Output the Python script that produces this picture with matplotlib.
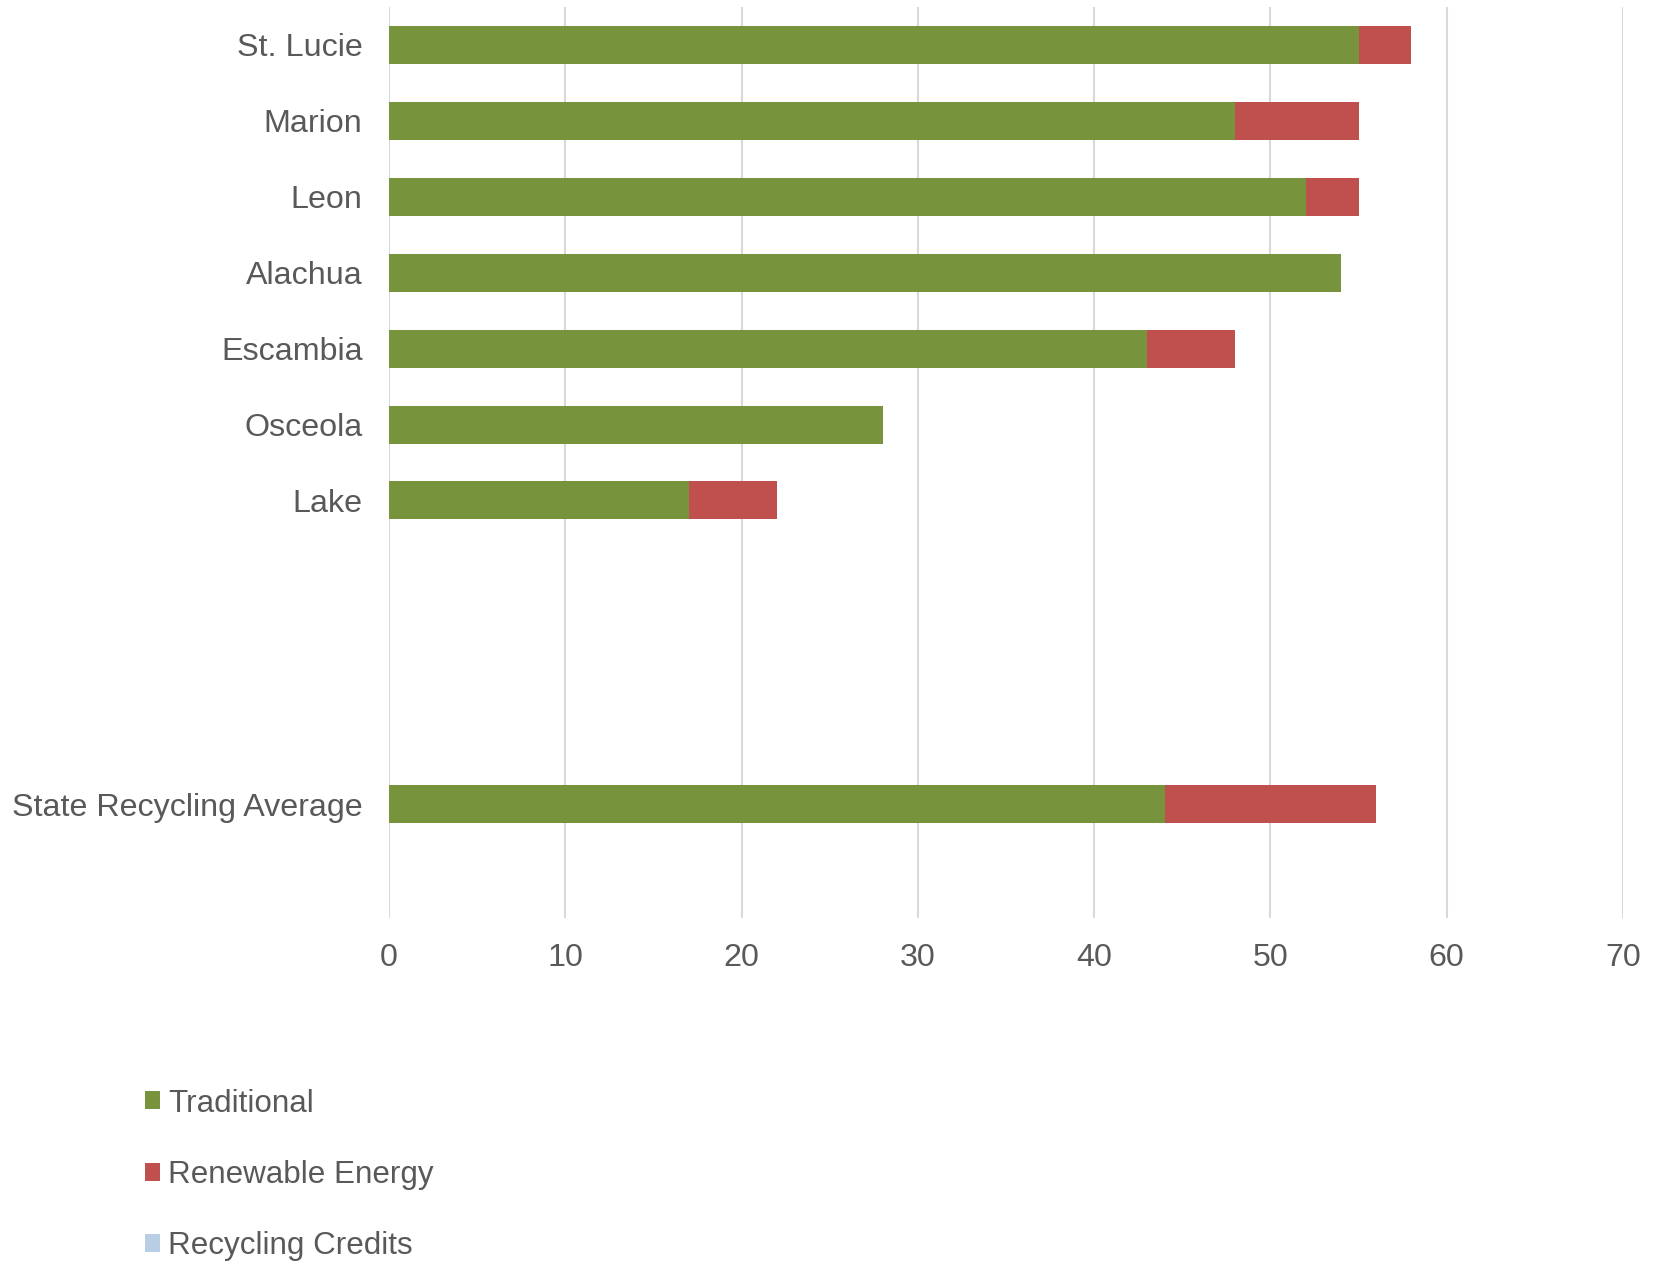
import matplotlib
matplotlib.use("Agg")
import matplotlib.pyplot as plt
from matplotlib.patches import Patch
import numpy as np

plt.rcParams['font.family'] = ['Liberation Sans', 'DejaVu Sans']

# counties top to bottom, blank slots keep the gap before the state average
categories = ["St. Lucie", "Marion", "Leon", "Alachua", "Escambia", "Osceola", "Lake",
              "", "", "", "State Recycling Average", ""]
traditional = [55, 48, 52, 54, 43, 28, 17, 0, 0, 0, 44, 0]
renewable = [3, 7, 3, 0, 5, 0, 5, 0, 0, 0, 12, 0]
credits = [0, 0, 0, 0, 0, 0, 0, 0, 0, 0, 0, 0]
series_names = ["Traditional", "Renewable Energy", "Recycling Credits"]
colors = ["#77933C", "#C0504D", "#B9CDE5"]
xticks = [0, 10, 20, 30, 40, 50, 60, 70]

text_color = "#595959"
fs = 23.2

fig = plt.figure(figsize=(16.68, 12.62), dpi=100)
ax = fig.add_axes([389 / 1668, 1 - 918 / 1262, (1623 - 389) / 1668, (918 - 7) / 1262])

y = np.arange(len(categories))
left = np.zeros(len(categories))
for vals, name, col in zip([traditional, renewable, credits], series_names, colors):
    vals = np.array(vals, dtype=float)
    ax.barh(y, vals, left=left, height=0.5, color=col, label=name, zorder=3)
    left += vals

ax.set_ylim(len(categories) - 0.5, -0.5)
ax.set_xlim(0, 70)
ax.set_xticks(xticks)
ax.set_yticks(y)
ax.set_yticklabels(categories)

ax.grid(axis="x", color="#d9d9d9", linewidth=1.5, zorder=0)
for s in ax.spines.values():
    s.set_visible(False)
ax.tick_params(axis="both", length=0, labelsize=fs, colors=text_color)
ax.tick_params(axis="y", pad=19)
ax.tick_params(axis="x", pad=18)

handles = [Patch(facecolor=c, edgecolor="none") for c in colors]
fig.legend(handles, series_names, loc="upper left", bbox_to_anchor=(132 / 1668, 1 - 1076 / 1262),
           frameon=False, fontsize=22.6, labelcolor=text_color, handlelength=0.5,
           handleheight=0.5, handletextpad=0.25, labelspacing=1.32, borderaxespad=0)

fig.savefig("out.png", dpi=100)
